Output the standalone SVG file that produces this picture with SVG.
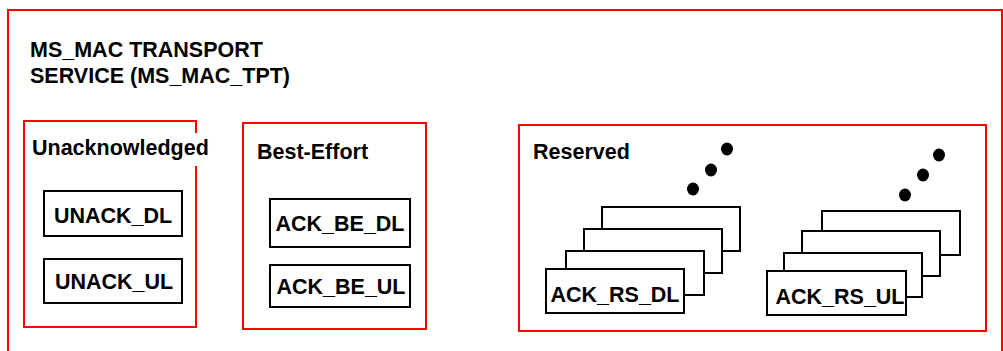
<svg xmlns="http://www.w3.org/2000/svg" width="1003" height="351" viewBox="0 0 1003 351">
<style>
text{font-family:"Liberation Sans",Arial,sans-serif;font-weight:bold;font-size:21.5px;fill:#000}
.grp{fill:none;stroke:#ff0000;stroke-width:2}
.node{fill:#fff;stroke:#000;stroke-width:2}
.mid{text-anchor:middle}
</style>
<rect width="1003" height="351" fill="#fff"/>
<g id="outer">
<rect class="grp" x="8" y="10" width="994" height="400"/>
<text x="30" y="57">MS_MAC TRANSPORT</text>
<text x="30" y="83">SERVICE (MS_MAC_TPT)</text>
</g>
<g id="unacknowledged">
<rect class="grp" x="24" y="121" width="172" height="206"/>
<rect x="190" y="133" width="14" height="33" fill="#fff"/>
<text x="32" y="155">Unacknowledged</text>
</g>
<g id="unack_dl">
<rect class="node" x="44" y="191" width="138" height="45"/>
<text class="mid" x="113" y="223">UNACK_DL</text>
</g>
<g id="unack_ul">
<rect class="node" x="44" y="259" width="138" height="44"/>
<text class="mid" x="114" y="289">UNACK_UL</text>
</g>
<g id="best_effort">
<rect class="grp" x="243" y="123" width="183" height="206"/>
<text x="257" y="159">Best-Effort</text>
</g>
<g id="ack_be_dl">
<rect class="node" x="270" y="199" width="140" height="48"/>
<text class="mid" x="340" y="231">ACK_BE_DL</text>
</g>
<g id="ack_be_ul">
<rect class="node" x="270" y="265" width="140" height="42"/>
<text class="mid" x="341" y="294">ACK_BE_UL</text>
</g>
<g id="reserved">
<rect class="grp" x="519" y="125" width="467" height="206"/>
<text x="533" y="159">Reserved</text>
</g>
<g id="ack_rs_dl">
<rect class="node" x="602" y="207" width="138" height="44"/>
<rect class="node" x="584" y="229" width="138" height="44"/>
<rect class="node" x="566" y="251" width="138" height="44"/>
<rect class="node" x="546" y="269" width="138" height="44"/>
<text class="mid" x="615" y="302">ACK_RS_DL</text>
<ellipse cx="727" cy="149" rx="6" ry="6.5"/>
<ellipse cx="711" cy="170" rx="6" ry="6.5"/>
<ellipse cx="693" cy="189" rx="6" ry="6.5"/>
</g>
<g id="ack_rs_ul">
<rect class="node" x="822" y="211" width="138" height="44"/>
<rect class="node" x="802" y="231" width="138" height="45"/>
<rect class="node" x="784" y="253" width="138" height="44"/>
<rect class="node" x="767" y="271" width="139" height="44"/>
<text class="mid" x="840" y="304">ACK_RS_UL</text>
<ellipse cx="939" cy="155" rx="6" ry="6.5"/>
<ellipse cx="923" cy="175" rx="6" ry="6.5"/>
<ellipse cx="905" cy="195" rx="6" ry="6.5"/>
</g>
<g id="connectors"></g>
</svg>
